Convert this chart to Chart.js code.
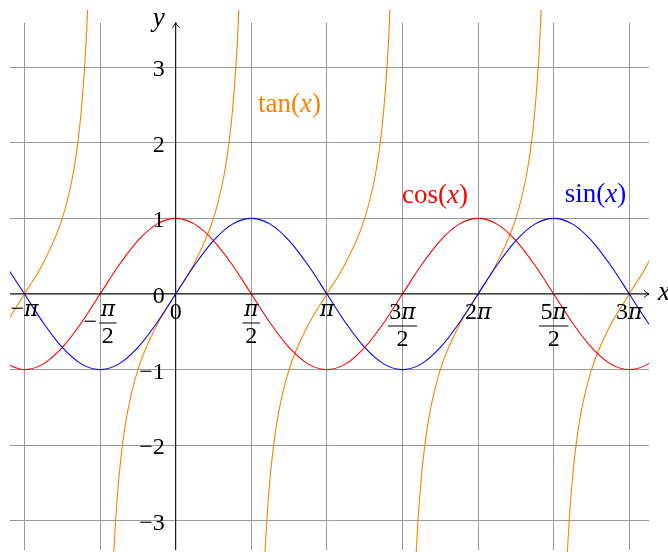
<!DOCTYPE html>
<html>
<head>
<meta charset="utf-8">
<script src="https://cdn.jsdelivr.net/npm/chart.js@4"></script>
<style>
  html, body { margin: 0; padding: 0; background: #ffffff; }
  canvas { display: block; }
</style>
</head>
<body>
<canvas id="trig" width="668" height="552"></canvas>
<script>
// Sample positions in radians, one every π/8
const xs = [-3.534, -3.142, -2.749, -2.356, -1.963, -1.571, -1.178, -0.785, -0.393, 0,
            0.393, 0.785, 1.178, 1.571, 1.963, 2.356, 2.749, 3.142, 3.534, 3.927,
            4.320, 4.712, 5.105, 5.498, 5.890, 6.283, 6.676, 7.069, 7.461, 7.854,
            8.247, 8.639, 9.032, 9.425, 9.817, 10.210];
const sinValues = [0.383, 0, -0.383, -0.707, -0.924, -1, -0.924, -0.707, -0.383, 0,
                   0.383, 0.707, 0.924, 1, 0.924, 0.707, 0.383, 0, -0.383, -0.707,
                   -0.924, -1, -0.924, -0.707, -0.383, 0, 0.383, 0.707, 0.924, 1,
                   0.924, 0.707, 0.383, 0, -0.383, -0.707];
const cosValues = [-0.924, -1, -0.924, -0.707, -0.383, 0, 0.383, 0.707, 0.924, 1,
                   0.924, 0.707, 0.383, 0, -0.383, -0.707, -0.924, -1, -0.924, -0.707,
                   -0.383, 0, 0.383, 0.707, 0.924, 1, 0.924, 0.707, 0.383, 0,
                   -0.383, -0.707, -0.924, -1, -0.924, -0.707];

// One branch of tan: offsets from the branch centre and the values there
const tanOffsets = [-1.35, -1.30, -1.25, -1.178, -1.1, -1.0, -0.785, -0.393, 0,
                    0.393, 0.785, 1.0, 1.1, 1.178, 1.25, 1.30, 1.35];
const tanValues  = [-4.455, -3.602, -3.010, -2.414, -1.965, -1.557, -1, -0.414, 0,
                    0.414, 1, 1.557, 1.965, 2.414, 3.010, 3.602, 4.455];
const tanCentres = [-3.1416, 0, 3.1416, 6.2832, 9.4248];

// Ticks
const xTickValues = [-3.1416, -1.5708, 0, 1.5708, 3.1416, 4.7124, 6.2832, 7.8540, 9.4248];
const xTickLabels = ['−π', '−π/2', '0', 'π/2', 'π', '3π/2', '2π', '5π/2', '3π'];
const yTickValues = [-3, -2, -1, 0, 1, 2, 3];
const yTickLabels = ['−3', '−2', '−1', '0', '1', '2', '3'];

// Curve names
const curveNames = ['tan(x)', 'cos(x)', 'sin(x)'];

const COLORS = { sin: '#0000ff', cos: '#ff0000', tan: '#ff8000' };
const SERIF = '"Liberation Serif", "DejaVu Serif", serif';
const PI_FONT = '"DejaVu Serif", "Liberation Serif", serif';
const TICK_SIZE = 24;
const NAME_SIZE = 27;

// Text helpers: x, y and π are set in italic, everything else upright
function runs(str) {
  const out = [];
  for (const ch of str) {
    const it = 'xyπ'.includes(ch);
    const pi = ch === 'π';
    const last = out[out.length - 1];
    if (last && last.it === it && last.pi === pi) last.t += ch; else out.push({ t: ch, it, pi });
  }
  return out;
}
function font(size, r) {
  if (r.pi) return 'italic ' + Math.round(size * 0.9) + 'px ' + PI_FONT;
  return (r.it ? 'italic ' : '') + size + 'px ' + SERIF;
}
function measure(ctx, str, size) {
  let w = 0, asc = 0;
  for (const r of runs(str)) {
    ctx.font = font(size, r);
    const m = ctx.measureText(r.t);
    w += m.width;
    asc = Math.max(asc, m.actualBoundingBoxAscent);
  }
  return { w, asc };
}
function drawRuns(ctx, str, x, y, size) {
  ctx.textAlign = 'left';
  ctx.textBaseline = 'alphabetic';
  for (const r of runs(str)) {
    ctx.font = font(size, r);
    ctx.fillText(r.t, x, y);
    x += ctx.measureText(r.t).width;
  }
}

function arrowHead(ctx, tx, ty, dir) {
  // dir: 'up' or 'right'
  ctx.beginPath();
  if (dir === 'up') {
    ctx.moveTo(tx - 3.6, ty + 5);
    ctx.quadraticCurveTo(tx - 0.6, ty + 2, tx, ty);
    ctx.quadraticCurveTo(tx + 0.6, ty + 2, tx + 3.6, ty + 5);
  } else {
    ctx.moveTo(tx - 5, ty - 3.6);
    ctx.quadraticCurveTo(tx - 2, ty - 0.6, tx, ty);
    ctx.quadraticCurveTo(tx - 2, ty + 0.6, tx - 5, ty + 3.6);
  }
  ctx.stroke();
}

const axesPlugin = {
  id: 'centredAxes',
  afterDatasetsDraw(chart) {
    const ctx = chart.ctx;
    const xs_ = chart.scales.x, ys_ = chart.scales.y;
    const area = chart.chartArea;
    const ox = xs_.getPixelForValue(0);
    const oy = ys_.getPixelForValue(0);
    ctx.save();
    ctx.strokeStyle = '#000000';
    ctx.lineWidth = 1;
    // axis lines
    ctx.beginPath();
    ctx.moveTo(area.left, oy);
    ctx.lineTo(area.right, oy);
    ctx.moveTo(ox, area.bottom);
    ctx.lineTo(ox, area.top);
    ctx.stroke();
    arrowHead(ctx, area.right, oy, 'right');
    arrowHead(ctx, ox, area.top, 'up');

    ctx.fillStyle = '#000000';
    // y tick labels, to the left of the axis
    yTickValues.forEach((v, i) => {
      const py = ys_.getPixelForValue(v);
      const m = measure(ctx, yTickLabels[i], TICK_SIZE);
      drawRuns(ctx, yTickLabels[i], ox - 11 - m.w, py + 9, TICK_SIZE);
    });

    // x tick labels, hung below the axis
    const inkTop = oy + 10;
    xTickValues.forEach((v, i) => {
      const px = xs_.getPixelForValue(v);
      let label = xTickLabels[i];
      let sign = '';
      if (label.startsWith('−') && label.includes('/')) { sign = '−'; label = label.slice(1); }
      if (label.includes('/')) {
        const [num, den] = label.split('/');
        const mn = measure(ctx, num, TICK_SIZE);
        const md = measure(ctx, den, TICK_SIZE);
        const fw = Math.max(mn.w, md.w) + 3;
        const sw = sign ? measure(ctx, sign, TICK_SIZE).w + 2 : 0;
        const x0 = px - (sw + fw) / 2;
        const numBase = inkTop + mn.asc;
        const barY = numBase + 7;
        const denBase = barY + 5 + md.asc;
        if (sign) drawRuns(ctx, sign, x0, barY + 6, TICK_SIZE);
        const fx = x0 + sw;
        drawRuns(ctx, num, fx + (fw - mn.w) / 2, numBase, TICK_SIZE);
        drawRuns(ctx, den, fx + (fw - md.w) / 2, denBase, TICK_SIZE);
        ctx.beginPath();
        ctx.moveTo(fx, barY);
        ctx.lineTo(fx + fw, barY);
        ctx.stroke();
      } else {
        const m = measure(ctx, label, TICK_SIZE);
        drawRuns(ctx, label, px - m.w / 2, inkTop + m.asc, TICK_SIZE);
      }
    });

    // axis names
    const my = measure(ctx, 'y', NAME_SIZE);
    drawRuns(ctx, 'y', ox - 11 - my.w, area.top + 3, NAME_SIZE);
    drawRuns(ctx, 'x', area.right + 9, oy + 6, NAME_SIZE);

    // curve names
    const namePos = [
      { x: 2.366, y: 2.407, color: COLORS.tan },
      { x: 5.387, y: 1.204, color: COLORS.cos },
      { x: 8.722, y: 1.217, color: COLORS.sin }
    ];
    curveNames.forEach((name, i) => {
      const p = namePos[i];
      const m = measure(ctx, name, NAME_SIZE);
      ctx.fillStyle = p.color;
      drawRuns(ctx, name, xs_.getPixelForValue(p.x) - m.w / 2, ys_.getPixelForValue(p.y), NAME_SIZE);
    });
    ctx.restore();
  }
};

const datasets = [
  {
    label: 'sin(x)',
    data: xs.map((x, i) => ({ x, y: sinValues[i] })),
    borderColor: COLORS.sin
  },
  {
    label: 'cos(x)',
    data: xs.map((x, i) => ({ x, y: cosValues[i] })),
    borderColor: COLORS.cos
  }
].concat(tanCentres.map(c => ({
  label: 'tan(x)',
  data: tanOffsets.map((o, i) => ({ x: Math.round((c + o) * 10000) / 10000, y: tanValues[i] })),
  borderColor: COLORS.tan,
  clip: { left: 0, top: 13, right: 0, bottom: 40 }
})));

new Chart(document.getElementById('trig'), {
  type: 'line',
  data: { datasets },
  options: {
    responsive: false,
    animation: false,
    devicePixelRatio: 1,
    layout: { padding: { left: 10, right: 19, top: 22.7, bottom: 2 } },
    plugins: { legend: { display: false }, tooltip: { enabled: false } },
    elements: {
      point: { radius: 0 },
      line: { borderWidth: 1.1, cubicInterpolationMode: 'monotone', fill: false }
    },
    scales: {
      x: {
        type: 'linear',
        min: -3.443,
        max: 9.834,
        afterBuildTicks: s => { s.ticks = xTickValues.map(v => ({ value: v })); },
        ticks: { display: false },
        grid: { color: '#9a9a9a', lineWidth: 1, drawTicks: false },
        border: { display: false }
      },
      y: {
        type: 'linear',
        min: -3.386,
        max: 3.588,
        afterBuildTicks: s => { s.ticks = yTickValues.map(v => ({ value: v })); },
        ticks: { display: false },
        grid: { color: '#9a9a9a', lineWidth: 1, drawTicks: false },
        border: { display: false }
      }
    }
  },
  plugins: [axesPlugin]
});
</script>
</body>
</html>
